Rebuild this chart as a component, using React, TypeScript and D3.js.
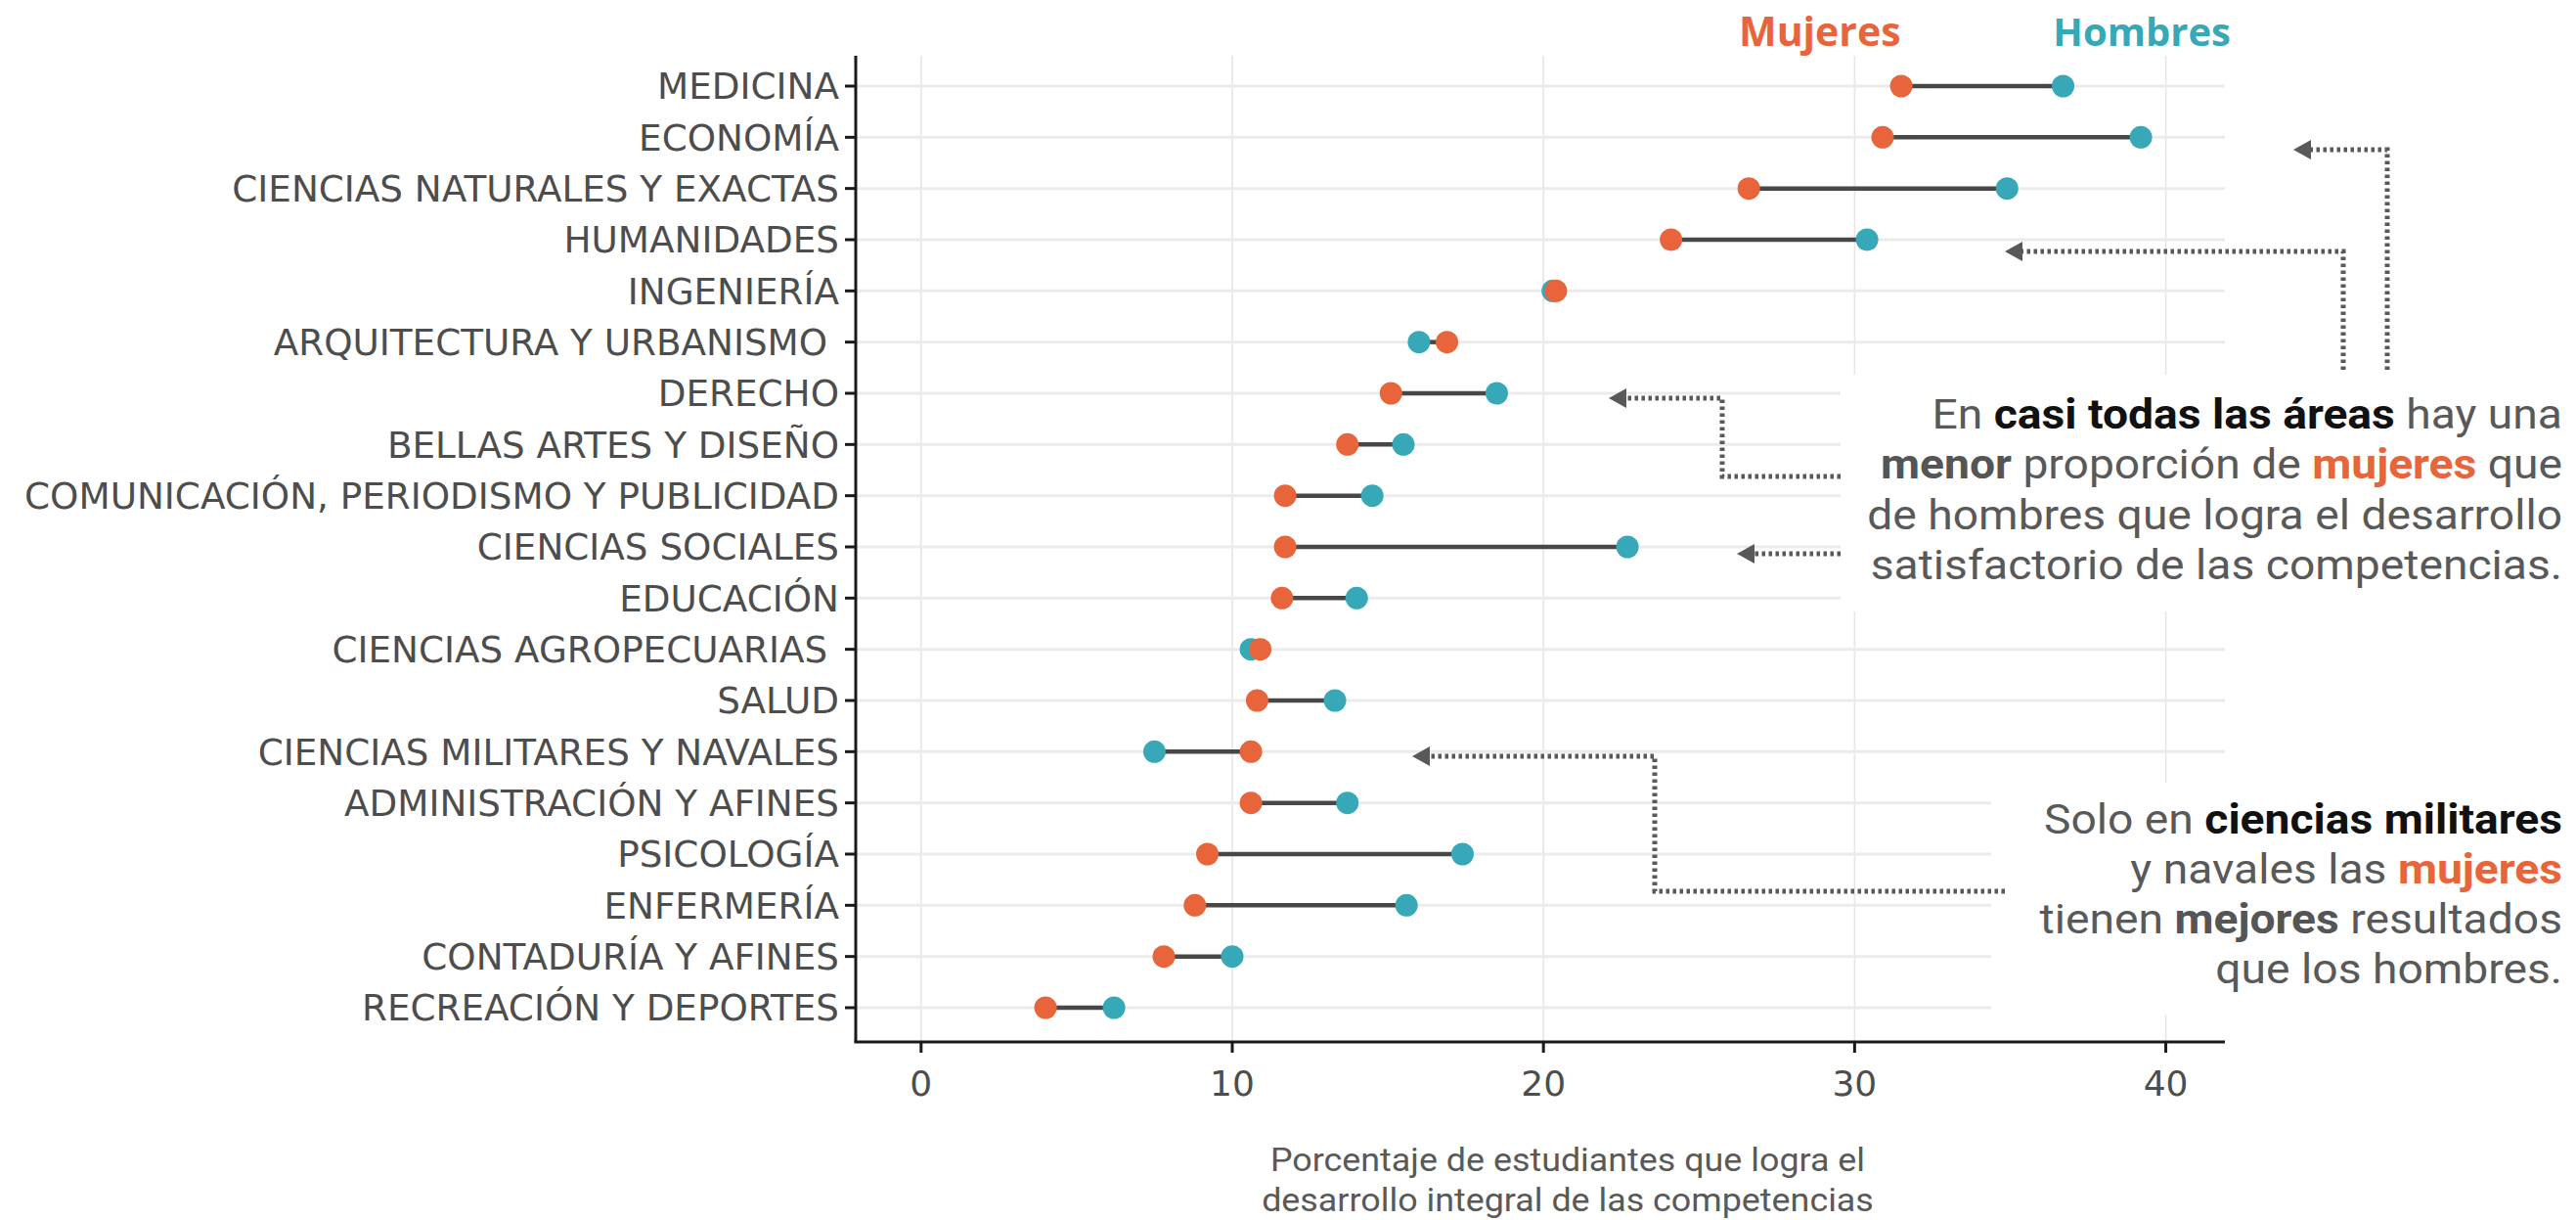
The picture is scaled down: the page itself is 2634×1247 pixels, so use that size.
import React from "react";
import * as d3 from "d3";

const categories = [
  "MEDICINA",
  "ECONOMÍA",
  "CIENCIAS NATURALES Y EXACTAS",
  "HUMANIDADES",
  "INGENIERÍA",
  "ARQUITECTURA Y URBANISMO ",
  "DERECHO",
  "BELLAS ARTES Y DISEÑO",
  "COMUNICACIÓN, PERIODISMO Y PUBLICIDAD",
  "CIENCIAS SOCIALES",
  "EDUCACIÓN",
  "CIENCIAS AGROPECUARIAS ",
  "SALUD",
  "CIENCIAS MILITARES Y NAVALES",
  "ADMINISTRACIÓN Y AFINES",
  "PSICOLOGÍA",
  "ENFERMERÍA",
  "CONTADURÍA Y AFINES",
  "RECREACIÓN Y DEPORTES",
];

const mujeres = [31.5, 30.9, 26.6, 24.1, 20.4, 16.9, 15.1, 13.7, 11.7, 11.7, 11.6, 10.9, 10.8, 10.6, 10.6, 9.2, 8.8, 7.8, 4.0];
const hombres = [36.7, 39.2, 34.9, 30.4, 20.3, 16.0, 18.5, 15.5, 14.5, 22.7, 14.0, 10.6, 13.3, 7.5, 13.7, 17.4, 15.6, 10.0, 6.2];

const xTicks = [0, 10, 20, 30, 40];
const xDomain = [-2.1, 41.9];

const legendLabels = ["Mujeres", "Hombres"];
const axisTitle = ["Porcentaje de estudiantes que logra el", "desarrollo integral de las competencias"];

const W = 2634;
const H = 1247;
const plot = { left: 875, right: 2275, top: 57, bottom: 1065 };

const C_M = "#E8643A";
const C_H = "#36A8B7";
const GRAY = "#595959";
const LABEL = "#4d4d4d";
const ANN_FONT = "Roboto, 'Open Sans', sans-serif";
const LEG_FONT = "'Open Sans', 'Noto Sans', sans-serif";
const AX_FONT = "'DejaVu Sans', Verdana, sans-serif";

type Seg = { t: string; w?: "b" | "n"; c?: string };

const note1: Seg[][] = [
  [{ t: "En " }, { t: "casi todas las áreas", w: "b", c: "#111" }, { t: " hay una" }],
  [{ t: "menor", w: "b", c: "#555" }, { t: " proporción de " }, { t: "mujeres", w: "b", c: C_M }, { t: " que" }],
  [{ t: "de hombres que logra el desarrollo" }],
  [{ t: "satisfactorio de las competencias." }],
];
const note2: Seg[][] = [
  [{ t: "Solo en " }, { t: "ciencias militares", w: "b", c: "#111" }],
  [{ t: "y navales las " }, { t: "mujeres", w: "b", c: C_M }],
  [{ t: "tienen " }, { t: "mejores", w: "b", c: "#555" }, { t: " resultados" }],
  [{ t: "que los hombres." }],
];

const arrows: { pts: [number, number][] }[] = [
  { pts: [[2441, 378], [2441, 153], [2345, 153]] },
  { pts: [[2396, 378], [2396, 257], [2050, 257]] },
  { pts: [[1882, 487], [1761, 487], [1761, 407], [1645, 407]] },
  { pts: [[1882, 566], [1776, 566]] },
  { pts: [[2050, 911], [1692, 911], [1692, 773], [1444, 773]] },
];

function Note({ lines, x, y0, lh }: { lines: Seg[][]; x: number; y0: number; lh: number }) {
  return (
    <g>
      {lines.map((line, i) => (
        <g key={i} transform={`translate(${x},${y0 + i * lh}) scale(1.075,1)`}>
          <text x={0} y={0} textAnchor="end" fontFamily={ANN_FONT} fontSize={43} fill={GRAY} style={{ whiteSpace: "pre" }}>
            {line.map((s, j) => (
              <tspan key={j} fontWeight={s.w === "b" ? 700 : 400} fill={s.c || GRAY}>
                {s.t}
              </tspan>
            ))}
          </text>
        </g>
      ))}
    </g>
  );
}

function Arrow({ pts }: { pts: [number, number][] }) {
  const tip = pts[pts.length - 1];
  const prev = pts[pts.length - 2];
  const L = 18;
  const hw = 10;
  const dx = Math.sign(tip[0] - prev[0]);
  const linePts = pts.slice(0, -1).concat([[tip[0] - dx * L, tip[1]] as [number, number]]);
  const line = d3.line()(linePts as [number, number][]) || "";
  const head = `M${tip[0]},${tip[1]}L${tip[0] - dx * L},${tip[1] - hw}L${tip[0] - dx * L},${tip[1] + hw}Z`;
  return (
    <g>
      <path d={line} fill="none" stroke={GRAY} strokeWidth={5} strokeDasharray="3.5 3.5" />
      <path d={head} fill={GRAY} />
    </g>
  );
}

export default function App() {
  const x = d3.scaleLinear().domain(xDomain).range([plot.left, plot.right]);
  const y = d3.scalePoint<string>().domain(categories).range([88, 1030]);

  return (
    <svg width={W} height={H} viewBox={`0 0 ${W} ${H}`} style={{ position: "absolute", left: 0, top: 0, background: "#fff" }}>
      <rect x={0} y={0} width={W} height={H} fill="#fff" />
      {xTicks.map((t) => (
        <line key={"vg" + t} x1={x(t)} x2={x(t)} y1={plot.top} y2={plot.bottom} stroke="#e6e6e6" strokeWidth={1.6} />
      ))}
      {categories.map((c) => (
        <line key={"hg" + c} x1={plot.left} x2={plot.right} y1={y(c)} y2={y(c)} stroke="#ebebeb" strokeWidth={3} />
      ))}
      <rect x={1882} y={383} width={W - 1882} height={242} fill="#fff" />
      <rect x={2036} y={800} width={W - 2036} height={237} fill="#fff" />

      {categories.map((c, i) => (
        <line key={"sg" + c} x1={x(mujeres[i])} x2={x(hombres[i])} y1={y(c)} y2={y(c)} stroke="#474747" strokeWidth={4.5} />
      ))}
      {categories.map((c, i) => (
        <circle key={"h" + c} cx={x(hombres[i])} cy={y(c)} r={11.5} fill={C_H} />
      ))}
      {categories.map((c, i) => (
        <circle key={"m" + c} cx={x(mujeres[i])} cy={y(c)} r={11.5} fill={C_M} />
      ))}

      <line x1={plot.left} x2={plot.left} y1={plot.top} y2={plot.bottom} stroke="#1a1a1a" strokeWidth={3} />
      <line x1={plot.left - 1.5} x2={plot.right} y1={plot.bottom} y2={plot.bottom} stroke="#1a1a1a" strokeWidth={3} />
      {categories.map((c) => (
        <g key={"yl" + c}>
          <line x1={plot.left - 11} x2={plot.left} y1={y(c)} y2={y(c)} stroke="#1a1a1a" strokeWidth={3} />
          <text x={plot.left - 17} y={y(c)} dy="0.36em" textAnchor="end" fontFamily={AX_FONT} fontSize={37.3} fill={LABEL} style={{ whiteSpace: "pre" }}>
            {c}
          </text>
        </g>
      ))}
      {xTicks.map((t) => (
        <g key={"xl" + t}>
          <line x1={x(t)} x2={x(t)} y1={plot.bottom} y2={plot.bottom + 11} stroke="#1a1a1a" strokeWidth={3} />
          <text x={x(t)} y={1120} textAnchor="middle" fontFamily={AX_FONT} fontSize={36} fill={LABEL}>
            {t}
          </text>
        </g>
      ))}
      {axisTitle.map((l, i) => (
        <g key={"at" + i} transform={`translate(1603,${1197 + i * 41}) scale(1.07,1)`}>
          <text x={0} y={0} textAnchor="middle" fontFamily={ANN_FONT} fontSize={33.5} fill={GRAY}>
            {l}
          </text>
        </g>
      ))}

      <text x={1778} y={47} fontFamily={LEG_FONT} fontWeight={700} fontSize={41} fill={C_M}>
        {legendLabels[0]}
      </text>
      <text x={2281} y={47} textAnchor="end" fontFamily={LEG_FONT} fontWeight={700} fontSize={40} fill={C_H}>
        {legendLabels[1]}
      </text>

      {arrows.map((a, i) => (
        <Arrow key={"ar" + i} pts={a.pts} />
      ))}
      <Note lines={note1} x={2620} y0={438} lh={51.3} />
      <Note lines={note2} x={2620} y0={852} lh={51} />
    </svg>
  );
}
